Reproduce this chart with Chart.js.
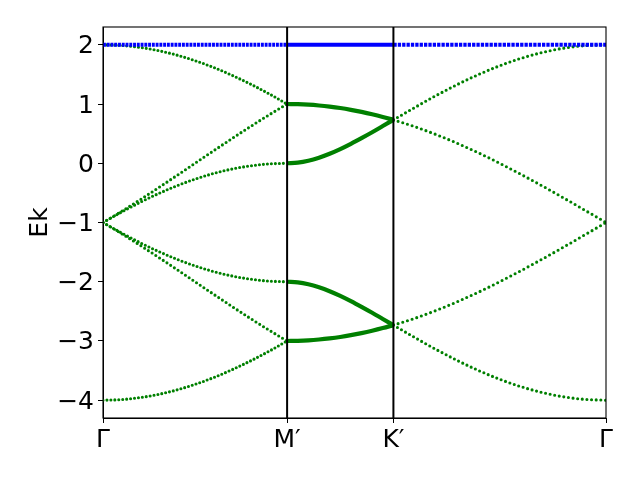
<!DOCTYPE html>
<html><head><meta charset="utf-8">
<script src="https://cdn.jsdelivr.net/npm/chart.js@4.4.1/dist/chart.umd.min.js"></script>
<style>html,body{margin:0;padding:0;background:#fff;} canvas{display:block;}</style>
</head><body>
<canvas id="c" width="640" height="480"></canvas>
<script>
// high-symmetry path
const kTicks = [0, 1, 1.5774, 2.7321];
const kLabels = ['Γ', 'M′', 'K′', 'Γ'];
const yTicks = [-4, -3, -2, -1, 0, 1, 2];
const yRange = [-4.3, 2.3];

// k positions along each path segment
const kGM = [0, 0.1, 0.2, 0.3, 0.4, 0.5, 0.6, 0.7, 0.8, 0.9, 1.0];
const kMK = [1.0, 1.0577, 1.1155, 1.1732, 1.2309, 1.2887, 1.3464, 1.4041, 1.4619, 1.5196, 1.5774];
const kKG = [1.5774, 1.6928, 1.8083, 1.9238, 2.0392, 2.1547, 2.2702, 2.3857, 2.5011, 2.6166, 2.7321];

// flat band (blue)
const flatBand = [2, 2, 2, 2, 2, 2, 2, 2, 2, 2, 2];

// Γ -> M′ bands (green)
const gmA = [2, 1.989, 1.956, 1.902, 1.827, 1.732, 1.618, 1.486, 1.338, 1.176, 1];
const gmB = [-4, -3.989, -3.956, -3.902, -3.827, -3.732, -3.618, -3.486, -3.338, -3.176, -3];
const gmC = [-1, -0.814, -0.618, -0.416, -0.209, 0, 0.209, 0.416, 0.618, 0.813, 1];
const gmD = [-1, -1.186, -1.382, -1.584, -1.791, -2, -2.209, -2.416, -2.618, -2.813, -3];
const gmE = [-1, -0.825, -0.662, -0.514, -0.382, -0.268, -0.173, -0.098, -0.044, -0.011, 0];
const gmF = [-1, -1.175, -1.338, -1.486, -1.618, -1.732, -1.827, -1.902, -1.956, -1.989, -2];

// M′ -> K′ bands (green)
const mkA = [1, 0.997, 0.989, 0.975, 0.956, 0.932, 0.902, 0.867, 0.827, 0.782, 0.732];
const mkB = [0, 0.011, 0.043, 0.094, 0.160, 0.239, 0.328, 0.424, 0.524, 0.628, 0.732];
const mkC = [-2, -2.011, -2.043, -2.094, -2.160, -2.239, -2.328, -2.424, -2.524, -2.628, -2.732];
const mkD = [-3, -2.997, -2.989, -2.975, -2.956, -2.932, -2.902, -2.867, -2.827, -2.782, -2.732];

// K′ -> Γ bands (green)
const kgA = [0.732, 0.940, 1.141, 1.328, 1.497, 1.646, 1.771, 1.870, 1.942, 1.985, 2];
const kgB = [-2.732, -2.940, -3.141, -3.328, -3.497, -3.646, -3.771, -3.870, -3.942, -3.985, -4];
const kgC = [0.732, 0.618, 0.486, 0.338, 0.176, 0, -0.187, -0.382, -0.584, -0.791, -1];
const kgD = [-2.732, -2.618, -2.486, -2.338, -2.176, -2, -1.813, -1.618, -1.416, -1.209, -1];

// vertical marker lines at M′ and K′
const vLines = [1, 1.5774];

const GREEN = '#008000', BLUE = '#0000ff';

function pts(xs, ys) { return xs.map((x, i) => ({x: x, y: ys[i]})); }
function dotted(xs, ys, color, gap, w) {
  return {data: pts(xs, ys), borderColor: color, borderWidth: w, borderDash: [0, gap],
    borderCapStyle: 'round', pointRadius: 0, cubicInterpolationMode: 'monotone', fill: false};
}
function dashed(xs, ys, color, dash, w) {
  return {data: pts(xs, ys), borderColor: color, borderWidth: w, borderDash: dash,
    borderCapStyle: 'butt', pointRadius: 0, cubicInterpolationMode: 'monotone', fill: false};
}
function solid(xs, ys, color, w) {
  return dashed(xs, ys, color, [], w);
}

const datasets = [];
vLines.forEach(v => datasets.push({data: [{x: v, y: yRange[0]}, {x: v, y: yRange[1]}],
  borderColor: '#000', borderWidth: 2, pointRadius: 0, fill: false}));
datasets.push(dashed(kGM, flatBand, BLUE, [2.9, 0.86], 4));
datasets.push(solid(kMK, flatBand, BLUE, 4));
datasets.push(dashed(kKG, flatBand, BLUE, [3.3, 1.07], 4));
datasets.push(dotted(kGM, gmA, GREEN, 3.95, 3.1));
datasets.push(dotted(kGM, gmB, GREEN, 3.95, 3.1));
datasets.push(dotted(kGM, gmC, GREEN, 4.45, 3.1));
datasets.push(dotted(kGM, gmD, GREEN, 4.45, 3.1));
datasets.push(dotted(kGM, gmE, GREEN, 4.0, 3.1));
datasets.push(dotted(kGM, gmF, GREEN, 4.0, 3.1));
[mkA, mkB, mkC, mkD].forEach(b => datasets.push(solid(kMK, b, GREEN, 4.2)));
datasets.push(dotted(kKG, kgA, GREEN, 4.65, 3.1));
datasets.push(dotted(kKG, kgB, GREEN, 4.65, 3.1));
datasets.push(dotted(kKG, kgC, GREEN, 4.9, 3.1));
datasets.push(dotted(kKG, kgD, GREEN, 4.9, 3.1));

const frame = {
  id: 'frame',
  afterDraw(chart) {
    const a = chart.chartArea, ctx = chart.ctx;
    ctx.save();
    ctx.strokeStyle = '#000';
    ctx.lineWidth = 1.1;
    ctx.strokeRect(a.left, a.top, a.right - a.left, a.bottom - a.top);
    ctx.restore();
  }
};

const FONT = {family: 'DejaVu Sans', size: 25};

new Chart(document.getElementById('c'), {
  type: 'line',
  data: {datasets: datasets},
  options: {
    responsive: false,
    devicePixelRatio: 1,
    animation: false,
    layout: {padding: {left: 0, right: 34, top: 27, bottom: 0}},
    plugins: {legend: {display: false}, tooltip: {enabled: false}},
    scales: {
      x: {
        type: 'linear', min: kTicks[0], max: kTicks[kTicks.length - 1],
        afterBuildTicks: s => { s.ticks = kTicks.map(v => ({value: v})); },
        afterFit: s => { s.height = 62; },
        ticks: {autoSkip: false, maxRotation: 0, color: '#000', font: FONT, padding: 2,
          callback: (v, i) => kLabels[i]},
        grid: {drawOnChartArea: false, drawTicks: true, tickLength: 5, color: '#000'},
        border: {display: true, color: '#000', width: 1}
      },
      y: {
        type: 'linear', min: yRange[0], max: yRange[1],
        afterBuildTicks: s => { s.ticks = yTicks.map(v => ({value: v})); },
        afterFit: s => { s.width = 103; },
        ticks: {color: '#000', font: FONT, padding: 4, labelOffset: 2,
          callback: v => (v < 0 ? '\u2212' + Math.abs(v) : '' + v)},
        grid: {drawOnChartArea: false, drawTicks: true, tickLength: 5, color: '#000'},
        border: {display: true, color: '#000', width: 1},
        title: {display: true, text: 'Ek', color: '#000', font: FONT, padding: {top: 25, bottom: 0}}
      }
    }
  },
  plugins: [frame]
});
</script>
</body></html>
